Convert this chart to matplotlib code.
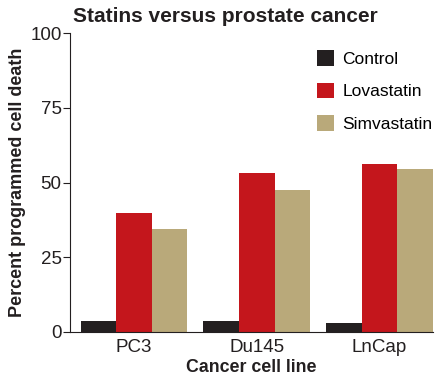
import numpy as np
import matplotlib
matplotlib.use('Agg')
import matplotlib.pyplot as plt

# data
cell_lines = ['PC3', 'Du145', 'LnCap']
control = [3.7, 3.8, 3.1]
lovastatin = [39.8, 53.2, 56.2]
simvastatin = [34.3, 47.5, 54.4]
series_names = ['Control', 'Lovastatin', 'Simvastatin']
colors = ['#231f20', '#c4161c', '#b9a97a']
yticks = [0, 25, 50, 75, 100]

plt.rcParams['font.family'] = ['Liberation Sans', 'DejaVu Sans']

fig = plt.figure(figsize=(4.45, 3.83), dpi=100)
ax = fig.add_axes([70 / 445, 1 - 332 / 383, 363 / 445, 299 / 383])

x = np.arange(len(cell_lines))
w = 0.29
for i, (vals, name, c) in enumerate(zip([control, lovastatin, simvastatin], series_names, colors)):
    ax.bar(x + (i - 1) * w, vals, width=w, color=c, label=name)

ax.set_xlim(-0.522, 2 + 1.5 * w)
ax.set_ylim(0, 100)
ax.set_yticks(yticks)
ax.set_xticks(x)
ax.set_xticklabels(cell_lines)
ax.tick_params(axis='x', length=0, labelsize=13.5, pad=5, colors='#231f20')
ax.tick_params(axis='y', length=5, labelsize=13.5, pad=1, colors='#231f20')

for s in ['top', 'right']:
    ax.spines[s].set_visible(False)
ax.spines['left'].set_color('#231f20')
ax.spines['bottom'].set_color('#231f20')

ax.set_ylabel('Percent programmed cell death', fontsize=13, fontweight='bold', color='#231f20', labelpad=3)
ax.set_xlabel('Cancer cell line', fontsize=12.8, fontweight='bold', color='#231f20', labelpad=2)

fig.text(73 / 445, 1 - 17 / 383, 'Statins versus prostate cancer', fontsize=15,
         fontweight='bold', color='#231f20', va='center', ha='left')

ax.legend(loc='upper left', bbox_to_anchor=(0.66, 0.965), frameon=False,
          fontsize=12.5, handlelength=1.0, handleheight=1.0, labelspacing=0.9,
          handletextpad=0.5, borderaxespad=0)

fig.savefig('out.png', dpi=100)
